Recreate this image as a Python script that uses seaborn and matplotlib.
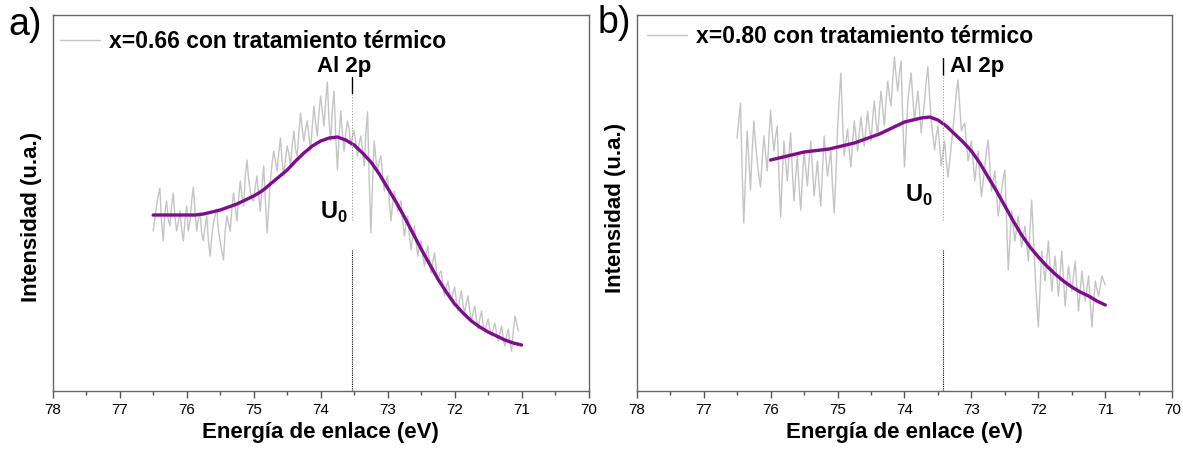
import numpy as np
import pandas as pd
import seaborn as sns
import matplotlib.pyplot as plt
from matplotlib.ticker import MultipleLocator

# ---- data (intensity in arbitrary units) ----
# panel a: x=0.66, raw spectrum every 0.025 eV starting at 76.50
raw_a = [160, 172, 185, 195, 203, 170, 150, 178, 190, 172, 165, 185, 198, 175, 160, 168,
         180, 162, 150, 170, 185, 160, 170, 190, 204, 180, 160, 172, 178, 158, 150, 165,
         175, 150, 135, 155, 168, 176, 182, 160, 150, 140, 131, 160, 175, 168, 160, 182,
         198, 185, 170, 192, 210, 195, 185, 215, 231, 212, 200, 192, 190, 205, 215, 195,
         180, 205, 225, 190, 158, 185, 210, 228, 240, 230, 220, 238, 253, 230, 215, 232,
         245, 238, 225, 245, 260, 242, 235, 258, 278, 262, 250, 262, 270, 255, 240, 265,
         285, 268, 255, 278, 295, 280, 265, 290, 309, 270, 250, 282, 300, 255, 221, 255,
         280, 258, 240, 258, 270, 262, 245, 255, 260, 248, 235, 248, 255, 240, 225, 258,
         279, 210, 158, 210, 250, 232, 220, 230, 235, 215, 200, 210, 215, 190, 170, 188,
         200, 190, 180, 186, 190, 170, 155, 168, 175, 155, 141, 155, 165, 148, 135, 145,
         150, 135, 125, 138, 145, 128, 118, 130, 138, 122, 110, 118, 120, 105, 95, 104,
         110, 98, 90, 98, 104, 90, 80, 92, 100, 86, 78, 88, 95, 80, 70, 78,
         85, 72, 62, 72, 80, 66, 58, 66, 72, 62, 55, 62, 68, 58, 50, 58,
         65, 52, 45, 55, 62, 48, 40, 60, 75, 68, 60]
energy_a = np.round(76.5 - 0.025 * np.arange(len(raw_a)), 3)

fit_energy_a = [76.5, 76.25, 76.0, 75.875, 75.75, 75.625, 75.5, 75.375, 75.25, 75.125, 75.0,
                74.875, 74.75, 74.625, 74.5, 74.375, 74.25, 74.125, 74.0, 73.875, 73.75,
                73.625, 73.5, 73.375, 73.25, 73.125, 73.0, 72.875, 72.75, 72.625, 72.5,
                72.375, 72.25, 72.125, 72.0, 71.875, 71.75, 71.625, 71.5, 71.375, 71.25,
                71.125, 71.0]
fit_a = [176, 176, 176, 176, 177, 179, 181, 184, 187, 191, 195,
         200, 207, 214, 221, 230, 238, 245, 250, 253, 254,
         251, 246, 238, 229, 217, 203, 189, 174, 158, 142,
         127, 112, 99, 87, 78, 70, 64, 59, 55, 51,
         48, 46]

# panel b: x=0.80, raw spectrum every 0.025 eV starting at 76.50
raw_b = [253, 270, 288, 220, 168, 215, 260, 232, 201, 240, 270, 248, 230, 215, 204, 232,
         255, 238, 220, 252, 281, 258, 240, 255, 265, 215, 174, 215, 250, 228, 210, 235,
         258, 220, 190, 215, 235, 205, 181, 212, 240, 222, 205, 230, 250, 222, 195, 212,
         230, 205, 185, 220, 255, 235, 215, 228, 240, 205, 178, 215, 260, 292, 318, 270,
         235, 250, 262, 240, 224, 248, 270, 255, 240, 258, 274, 258, 245, 262, 280, 262,
         250, 272, 290, 270, 255, 280, 300, 282, 265, 290, 310, 295, 285, 312, 334, 315,
         300, 318, 330, 270, 224, 258, 290, 305, 318, 292, 270, 286, 300, 280, 258, 275,
         290, 310, 324, 295, 270, 255, 241, 255, 265, 245, 225, 238, 250, 230, 214, 230,
         245, 262, 280, 298, 311, 285, 260, 265, 268, 248, 230, 240, 250, 230, 210, 225,
         240, 215, 194, 210, 225, 240, 251, 225, 200, 210, 220, 198, 175, 188, 200, 212,
         221, 170, 121, 150, 180, 165, 150, 162, 175, 158, 144, 155, 165, 148, 130, 160,
         191, 155, 120, 90, 64, 100, 140, 125, 110, 130, 150, 125, 100, 118, 135, 115,
         95, 118, 140, 112, 85, 105, 125, 112, 100, 115, 130, 105, 80, 100, 120, 105,
         90, 102, 115, 90, 64, 88, 110, 102, 95, 105, 115, 110, 106]
energy_b = np.round(76.5 - 0.025 * np.arange(len(raw_b)), 3)

fit_energy_b = [76.0, 75.875, 75.75, 75.625, 75.5, 75.375, 75.25, 75.125, 75.0, 74.875,
                74.75, 74.625, 74.5, 74.375, 74.25, 74.125, 74.0, 73.875, 73.75, 73.625,
                73.5, 73.375, 73.25, 73.125, 73.0, 72.875, 72.75, 72.625, 72.5, 72.375,
                72.25, 72.125, 72.0, 71.875, 71.75, 71.625, 71.5, 71.375, 71.25, 71.125, 71.0]
fit_b = [231, 233, 235, 237, 239, 240, 241, 242, 244, 246,
         248, 251, 254, 257, 261, 265, 269, 271, 273, 274,
         271, 265, 257, 249, 240, 228, 214, 200, 185, 170,
         156, 144, 134, 125, 117, 110, 104, 99, 95, 90, 86]

labels = ["x=0.66 con tratamiento térmico", "x=0.80 con tratamiento térmico"]
al2p_pos = [73.53, 73.43]

sns.set_style("ticks")
plt.rcParams['font.family'] = ['Liberation Sans', 'DejaVu Sans']
plt.rcParams['mathtext.fontset'] = 'custom'
plt.rcParams['mathtext.rm'] = 'Liberation Sans'
plt.rcParams['mathtext.bf'] = 'Liberation Sans:bold'
plt.rcParams['text.color'] = 'black'
plt.rcParams['axes.labelcolor'] = 'black'
plt.rcParams['xtick.labelcolor'] = 'black'

fig = plt.figure(figsize=(11.83, 4.58), dpi=100)
ax_a = fig.add_axes([0.0445, 0.1463, 0.4531, 0.8209])
ax_b = fig.add_axes([0.5382, 0.1463, 0.4527, 0.8209])


def draw_panel(ax, e_raw, raw, e_fit, fit, label, x0, solid, al_text, u0_text, u0_y, leg_anchor, ylab_y):
    df_raw = pd.DataFrame({"E": e_raw, "I": raw})
    df_fit = pd.DataFrame({"E": e_fit, "I": fit})
    sns.lineplot(data=df_raw, x="E", y="I", ax=ax, color="#c4c4c4", lw=1.0, sort=False)
    sns.lineplot(data=df_fit, x="E", y="I", ax=ax, color="#7e0d8e", lw=2.4, sort=False)

    # Al 2p marker line: solid piece on top, dotted below
    ax.plot([x0, x0], solid, color="black", lw=1.0)
    ax.plot([x0, x0], [171, solid[0]], color="#9a9a9a", lw=0.8, ls=(0, (1, 1.5)))
    ax.plot([x0, x0], [0, 141], color="black", lw=0.8, ls=(0, (1, 1)))
    ax.text(al_text[0], al_text[1], "Al 2p", fontsize=16, fontweight="bold", ha="left", va="baseline")
    ax.text(u0_text, u0_y, r"$\mathbf{U}_{\mathbf{0}}$", fontsize=17, ha="right", va="center")

    ax.set_xlim(78, 70)
    ax.set_ylim(0, 376)
    ax.xaxis.set_major_locator(MultipleLocator(1))
    ax.xaxis.set_minor_locator(MultipleLocator(0.5))
    ax.tick_params(axis="x", which="major", direction="out", length=5, width=1,
                   color="#555555", labelsize=11, pad=4, labelcolor="black")
    ax.tick_params(axis="x", which="minor", direction="out", length=3, width=1, color="#555555")
    ax.tick_params(axis="y", left=False, labelleft=False)
    for s in ax.spines.values():
        s.set_color("#666666")
        s.set_linewidth(1.0)

    ax.set_xlabel("Energía de enlace (eV)", fontsize=16, fontweight="bold", labelpad=3)
    ax.set_ylabel("Intensidad (u.a.)", fontsize=16, fontweight="bold")
    ax.yaxis.set_label_coords(-0.02, ylab_y)

    handle = ax.get_lines()[0]
    ax.legend([handle], [label], loc="center left", bbox_to_anchor=leg_anchor,
              frameon=False, borderpad=0, borderaxespad=0, handlelength=1.75,
              handletextpad=0.4, prop={"size": 16.5, "weight": "bold"})


draw_panel(ax_a, energy_a, raw_a, fit_energy_a, fit_a, labels[0], al2p_pos[0],
           [298, 314], (74.05, 319), 73.6, 179, (0.0136, 0.929), 0.464)
draw_panel(ax_b, energy_b, raw_b, fit_energy_b, fit_b, labels[1], al2p_pos[1],
           [316, 333], (73.32, 319), 73.575, 196, (0.0187, 0.942), 0.487)

fig.text(0.0068, 0.9236, "a)", fontsize=27, va="baseline")
fig.text(0.5055, 0.928, "b)", fontsize=27, va="baseline")

fig.savefig("out.png", dpi=100)
